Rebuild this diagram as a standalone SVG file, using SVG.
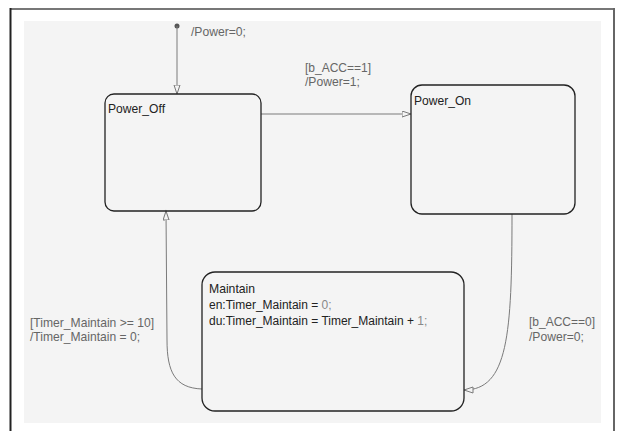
<svg xmlns="http://www.w3.org/2000/svg" width="618" height="431" viewBox="0 0 618 431">
<style>
.state{fill:none;stroke:#222;stroke-width:1.3}
.tr{fill:none;stroke:#7a7a7a;stroke-width:1}
.lbl{font-family:"Liberation Sans",Arial,sans-serif;font-size:13px;fill:#666}
.st{font-family:"Liberation Sans",Arial,sans-serif;font-size:13px;fill:#222}
.code{font-family:"Liberation Sans",Arial,sans-serif;font-size:12px;fill:#222}
.num{fill:#888}
</style>
<defs>
<marker id="ah" markerUnits="userSpaceOnUse" markerWidth="11" markerHeight="8" refX="9.5" refY="3.5" orient="auto">
<path d="M0.5,0.5 L9.5,3.5 L0.5,6.5 Z" fill="#f4f4f4" stroke="#7a7a7a" stroke-width="1"/>
</marker>
</defs>
<rect width="618" height="431" fill="#fff"/>
<g id="frame">
<rect x="24" y="21" width="577" height="402" fill="#f4f4f4"/>
<line x1="10" y1="9" x2="615" y2="9" stroke="#777" stroke-width="2"/>
<line x1="10.5" y1="8" x2="10.5" y2="431" stroke="#222" stroke-width="2"/>
<line x1="614" y1="8" x2="614" y2="431" stroke="#666" stroke-width="2"/>
</g>
<g id="connectors">
<circle cx="177" cy="26" r="2.5" fill="#555"/>
<path class="tr" d="M177,26 L177,94" marker-end="url(#ah)"/>
<path class="tr" d="M261,114 L411,114" marker-end="url(#ah)"/>
<path class="tr" d="M512,214 C512,335 508,390 464,390" marker-end="url(#ah)"/>
<path class="tr" d="M202,389 C175,388 167,372 167,340 L166,211" marker-end="url(#ah)"/>
<text class="lbl" x="191" y="36" textLength="55" lengthAdjust="spacingAndGlyphs">/Power=0;</text>
<text class="lbl" x="305" y="72" textLength="66" lengthAdjust="spacingAndGlyphs">[b_ACC==1]</text>
<text class="lbl" x="305" y="86" textLength="55" lengthAdjust="spacingAndGlyphs">/Power=1;</text>
<text class="lbl" x="529" y="326" textLength="66" lengthAdjust="spacingAndGlyphs">[b_ACC==0]</text>
<text class="lbl" x="529" y="341" textLength="55" lengthAdjust="spacingAndGlyphs">/Power=0;</text>
<text class="lbl" x="30" y="327" textLength="124" lengthAdjust="spacingAndGlyphs">[Timer_Maintain &gt;= 10]</text>
<text class="lbl" x="30" y="341" textLength="110" lengthAdjust="spacingAndGlyphs">/Timer_Maintain = 0;</text>
</g>
<g id="Power_Off">
<rect class="state" x="105" y="94" width="156" height="117" rx="9"/>
<text class="st" x="108" y="113" textLength="57" lengthAdjust="spacingAndGlyphs">Power_Off</text>
</g>
<g id="Power_On">
<rect class="state" x="411" y="85" width="164" height="129" rx="11"/>
<text class="st" x="414" y="105" textLength="57" lengthAdjust="spacingAndGlyphs">Power_On</text>
</g>
<g id="Maintain">
<rect class="state" x="202" y="272" width="262" height="139" rx="13"/>
<text class="st" x="209" y="293" textLength="46" lengthAdjust="spacingAndGlyphs">Maintain</text>
<text class="code" x="209" y="309">en:Timer_Maintain = <tspan class="num">0;</tspan></text>
<text class="code" x="209" y="325">du:Timer_Maintain = Timer_Maintain + <tspan class="num">1;</tspan></text>
</g>
</svg>
